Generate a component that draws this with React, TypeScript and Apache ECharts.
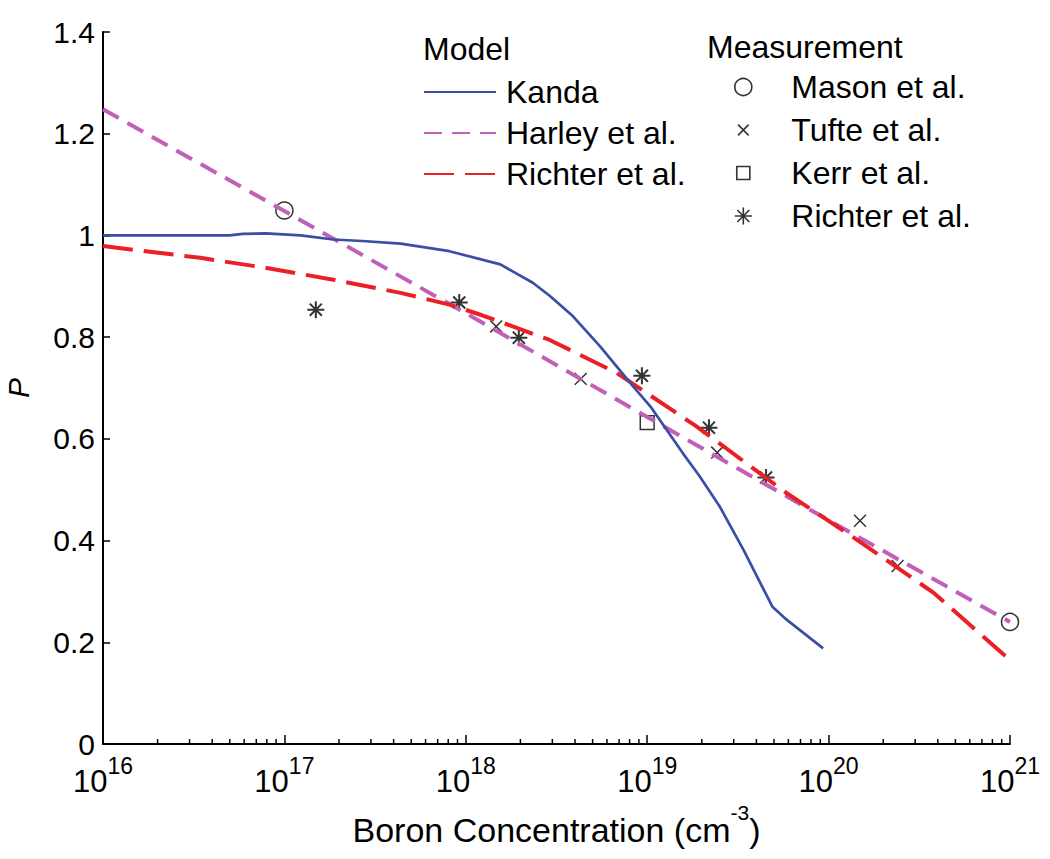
import React, { useEffect, useRef } from "react";
import * as echarts from "echarts";

// ---------- data ----------
const kandaX = [1e16, 5.0e16, 5.9e16, 7.9e16, 1.23e17, 1.86e17, 2.69e17, 4.37e17, 8.13e17, 1.55e18, 2.34e18, 2.91e18, 3.9e18, 5.5e18, 8.36e18, 1.04e19, 1.57e19, 1.95e19, 2.51e19, 3.39e19, 4.9e19, 5.89e19, 9.33e19];
const kandaP = [1.0, 1.0, 1.003, 1.004, 1.0, 0.992, 0.989, 0.984, 0.969, 0.943, 0.907, 0.881, 0.841, 0.782, 0.703, 0.664, 0.572, 0.526, 0.467, 0.382, 0.27, 0.244, 0.188];

const harleyX = [1e16, 1e17, 1e18, 1e19, 1e20, 1e21];
const harleyP = [1.248, 1.048, 0.847, 0.643, 0.44, 0.24];

const richterModelX = [1e16, 3.43e16, 8.0e16, 1.86e17, 4.37e17, 8.13e17, 1.23e18, 2.88e18, 6.76e18, 1.86e19, 5.89e19, 1.35e20, 3.8e20, 1e21];
const richterModelP = [0.979, 0.956, 0.936, 0.913, 0.887, 0.864, 0.843, 0.795, 0.73, 0.625, 0.493, 0.408, 0.297, 0.165];

const masonX = [1e17, 1e21];
const masonP = [1.049, 0.24];

const tufteX = [1.47e18, 4.3e18, 2.43e19, 1.49e20, 2.4e20];
const tufteP = [0.821, 0.718, 0.573, 0.439, 0.35];

const kerrX = [1e19];
const kerrP = [0.632];

const richterMeasX = [1.49e17, 9.2e17, 1.96e18, 9.35e18, 2.19e19, 4.52e19];
const richterMeasP = [0.854, 0.868, 0.799, 0.724, 0.622, 0.524];

const modelNames = ["Kanda", "Harley et al.", "Richter et al. (model)"];
const measNames = ["Mason et al.", "Tufte et al.", "Kerr et al.", "Richter et al. (measurement)"];

const xMin = 1e16;
const xMax = 1e21;
const yTicks = { min: 0, max: 1.4, interval: 0.2 };

// minor tick positions of the log axis (2..9 × each decade)
const decades = [16, 17, 18, 19, 20];
const minorMultipliers = [2, 3, 4, 5, 6, 7, 8, 9];

const FONT = "Liberation Sans, Arial, Helvetica, sans-serif";

const SYM_X = "path://M-3,-3M0,0L10,10M0,10L10,0M13,13";
const SYM_SQUARE = "path://M-1.5,-1.5M0,0H10V10H0ZM11.5,11.5";
const SYM_STAR = "path://M5,0L5,10M0,5L10,5M1.46,1.46L8.54,8.54M1.46,8.54L8.54,1.46";

const zip = (xs: number[], ys: number[]) => xs.map((x, i) => [x, ys[i]]);
const cleanName = (n: string) => n.replace(/ \((model|measurement)\)$/, "");

export default function App() {
  const ref = useRef<HTMLDivElement>(null);

  useEffect(() => {
    if (!ref.current) return;
    const chart = echarts.init(ref.current, undefined, { renderer: "svg" });

    const minorTicks: number[][] = [];
    decades.forEach((d) => minorMultipliers.forEach((m) => minorTicks.push([m * Math.pow(10, d), 0])));

    const markerStyle = { color: "transparent", borderColor: "#000", borderWidth: 1.5 };
    const legendText = { fontFamily: FONT, fontSize: 32, color: "#000", lineHeight: 32 };

    const option: any = {
      animation: false,
      backgroundColor: "#fff",
      grid: { left: 103, right: 40, top: 32, bottom: 115, containLabel: false, outerBoundsMode: "none" },
      graphic: [
        { type: "text", left: 423, top: 33, style: { text: "Model", font: `32px ${FONT}`, fill: "#000" } },
        { type: "text", left: 707, top: 31, style: { text: "Measurement", font: `32px ${FONT}`, fill: "#000" } },
      ],
      legend: [
        {
          data: modelNames,
          orient: "vertical",
          left: 423,
          top: 76,
          padding: 0,
          itemWidth: 72,
          itemHeight: 14,
          itemGap: 9,
          selectedMode: false,
          formatter: cleanName,
          itemStyle: { color: "transparent", borderWidth: 0, opacity: 0 },
          textStyle: { ...legendText, padding: [0, 0, 0, 5] },
        },
        {
          data: measNames,
          orient: "vertical",
          left: 734,
          top: 71,
          padding: 0,
          itemWidth: 18,
          itemHeight: 17,
          itemGap: 11,
          selectedMode: false,
          formatter: cleanName,
          itemStyle: { borderWidth: 1.6 },
          textStyle: { ...legendText, padding: [0, 0, 0, 34] },
        },
      ],
      xAxis: {
        type: "log",
        logBase: 10,
        min: xMin,
        max: xMax,
        splitLine: { show: false },
        axisLine: { show: true, lineStyle: { color: "#000", width: 2 } },
        axisTick: { show: true, inside: true, length: 9, lineStyle: { color: "#000", width: 1.5 } },
        axisLabel: {
          margin: 10,
          formatter: (v: number) => `{b|10}{s|${Math.round(Math.log10(v))}}`,
          rich: {
            b: { fontFamily: FONT, fontSize: 31, color: "#000", lineHeight: 43, verticalAlign: "bottom" },
            s: { fontFamily: FONT, fontSize: 23, color: "#000", lineHeight: 23, verticalAlign: "top" },
          },
        },
        name: "{t|Boron Concentration (cm}{s|-3}{t|)}",
        nameLocation: "middle",
        nameGap: 33,
        nameTextStyle: {
          rich: {
            t: { fontFamily: FONT, fontSize: 34, color: "#000", lineHeight: 45, verticalAlign: "bottom" },
            s: { fontFamily: FONT, fontSize: 21, color: "#000", lineHeight: 21, verticalAlign: "top" },
          },
        },
      },
      yAxis: {
        type: "value",
        min: yTicks.min,
        max: yTicks.max,
        interval: yTicks.interval,
        splitLine: { show: false },
        axisLine: { show: true, lineStyle: { color: "#000", width: 2 } },
        axisTick: { show: true, inside: true, length: 7, lineStyle: { color: "#000", width: 1.5 } },
        axisLabel: { fontFamily: FONT, fontSize: 30, color: "#000", margin: 8 },
        name: "P",
        nameLocation: "middle",
        nameGap: 70,
        nameTextStyle: { fontFamily: FONT, fontSize: 30, fontStyle: "italic", color: "#000" },
      },
      series: [
        {
          type: "custom",
          name: "minor ticks",
          silent: true,
          clip: false,
          data: minorTicks,
          renderItem: (_p: any, api: any) => {
            const pt = api.coord([api.value(0), 0]);
            return {
              type: "line",
              shape: { x1: pt[0], y1: pt[1], x2: pt[0], y2: pt[1] - 5 },
              style: { stroke: "#000", lineWidth: 1.5 },
            };
          },
        },
        {
          type: "line",
          name: "Harley et al.",
          data: zip(harleyX, harleyP),
          symbol: "none",
          lineStyle: { color: "#c060b8", width: 4, type: [18, 10] },
          itemStyle: { color: "#c060b8" },
        },
        {
          type: "line",
          name: "Richter et al. (model)",
          data: zip(richterModelX, richterModelP),
          symbol: "none",
          lineStyle: { color: "#ec1f26", width: 4, type: [30, 11] },
          itemStyle: { color: "#ec1f26" },
        },
        {
          type: "line",
          name: "Kanda",
          data: zip(kandaX, kandaP),
          symbol: "none",
          lineStyle: { color: "#3a4ea6", width: 2.7, type: "solid" },
          itemStyle: { color: "#3a4ea6" },
        },
        {
          type: "scatter",
          name: "Mason et al.",
          data: zip(masonX, masonP),
          symbol: "circle",
          symbolSize: 17,
          clip: false,
          itemStyle: markerStyle,
        },
        {
          type: "scatter",
          name: "Tufte et al.",
          data: zip(tufteX, tufteP),
          symbol: SYM_X,
          symbolSize: 19,
          clip: false,
          itemStyle: markerStyle,
        },
        {
          type: "scatter",
          name: "Kerr et al.",
          data: zip(kerrX, kerrP),
          symbol: SYM_SQUARE,
          symbolSize: 18,
          clip: false,
          itemStyle: markerStyle,
        },
        {
          type: "scatter",
          name: "Richter et al. (measurement)",
          data: zip(richterMeasX, richterMeasP),
          symbol: SYM_STAR,
          symbolSize: 17,
          clip: false,
          itemStyle: { ...markerStyle, borderWidth: 2 },
        },
      ],
    };

    chart.setOption(option);
    return () => chart.dispose();
  }, []);

  return <div ref={ref} style={{ position: "fixed", left: 0, top: 0, width: 1050, height: 859 }} />;
}
